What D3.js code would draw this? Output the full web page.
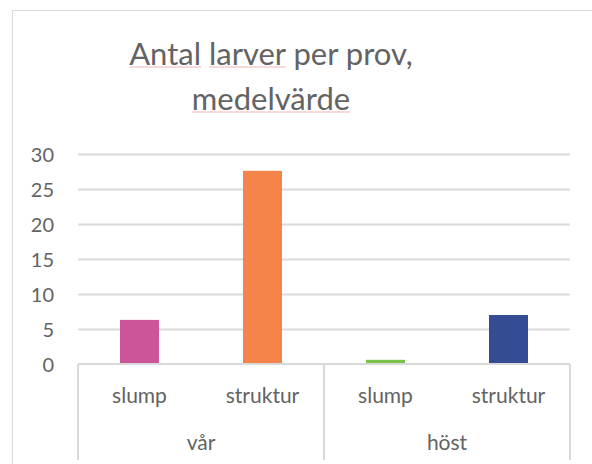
<!DOCTYPE html>
<html>
<head>
<meta charset="utf-8">
<script src="https://cdn.jsdelivr.net/npm/d3@7"></script>
<style>
  html, body { margin: 0; padding: 0; background: #fff; }
  svg { display: block; }
  text { font-family: Lato, "Open Sans", sans-serif; fill: #636363; }
</style>
</head>
<body>
<svg id="chart" width="592" height="464"></svg>
<script>
// ---- data ----
const titleLines = ["Antal larver per prov,", "medelvärde"];
const groups = ["vår", "vår", "höst", "höst"];
const categories = ["slump", "struktur", "slump", "struktur"];
const values = [6.3, 27.6, 0.6, 7.0];
const barColors = ["#CB5598", "#F4844A", "#7CC24A", "#344C94"];
const yTicks = [0, 5, 10, 15, 20, 25, 30];
const groupNames = ["vår", "höst"];

// ---- layout ----
const W = 592, H = 464;
const plot = { left: 78, right: 570, top: 154, bottom: 364 };
const svg = d3.select("#chart");

// chart frame (extends off right/bottom edge)
svg.append("rect")
  .attr("x", 12.5).attr("y", 10.5)
  .attr("width", W + 20).attr("height", H + 20)
  .attr("fill", "#fff").attr("stroke", "#d9d9d9").attr("stroke-width", 1);

const idx = d3.range(values.length);
const x = d3.scaleBand().domain(idx).range([plot.left, plot.right]).paddingInner(0).paddingOuter(0);
const y = d3.scaleLinear().domain([0, 30]).range([plot.bottom, plot.top]);

// gridlines + y labels
const yAxis = d3.axisLeft(y).tickValues(yTicks).tickSize(-(plot.right - plot.left)).tickPadding(24);
const gy = svg.append("g").attr("transform", `translate(${plot.left},0)`).call(yAxis);
gy.select(".domain").remove();
gy.selectAll(".tick line").attr("stroke", "#d9d9d9").attr("stroke-width", 2)
  .filter(d => d === 0).remove();
gy.selectAll(".tick text").attr("font-size", 20).attr("fill", "#636363")
  .style("font-family", "Lato, sans-serif").attr("dy", "0.36em");

// bars
const barW = 39;
svg.append("g").selectAll("rect").data(idx).join("rect")
  .attr("x", i => x(i) + x.bandwidth() / 2 - barW / 2)
  .attr("width", barW)
  .attr("y", i => y(values[i]))
  .attr("height", i => y(0) - y(values[i]))
  .attr("fill", i => barColors[i]);

// category axis baseline
const axisColor = "#d9d9d9";
svg.append("line")
  .attr("x1", plot.left).attr("x2", plot.right)
  .attr("y1", y(0)).attr("y2", y(0))
  .attr("stroke", axisColor).attr("stroke-width", 2);

// group separators
const groupBounds = [];
groupNames.forEach(g => {
  const members = idx.filter(i => groups[i] === g);
  const x0 = x(members[0]);
  const x1 = x(members[members.length - 1]) + x.bandwidth();
  groupBounds.push({ name: g, x0, x1 });
});
const sepX = Array.from(new Set(groupBounds.flatMap(b => [b.x0, b.x1])));
svg.append("g").selectAll("line").data(sepX).join("line")
  .attr("x1", d => d).attr("x2", d => d)
  .attr("y1", y(0)).attr("y2", 460)
  .attr("stroke", axisColor).attr("stroke-width", 2);

// category labels
svg.append("g").selectAll("text").data(idx).join("text")
  .attr("x", i => x(i) + x.bandwidth() / 2)
  .attr("y", 403)
  .attr("text-anchor", "middle")
  .attr("font-size", 21)
  .text(i => categories[i]);

// group labels
svg.append("g").selectAll("text").data(groupBounds).join("text")
  .attr("x", d => (d.x0 + d.x1) / 2)
  .attr("y", 450)
  .attr("text-anchor", "middle")
  .attr("font-size", 21)
  .text(d => d.name);

// title
const titleX = 271;
const titleY = [65, 110];
const underlineWords = [["Antal", "larver"], ["medelvärde"]];
titleLines.forEach((line, li) => {
  const t = svg.append("text")
    .attr("x", titleX).attr("y", titleY[li])
    .attr("text-anchor", "middle")
    .attr("font-size", 31)
    .style("fill", "#636363")
    .text(line);
  const node = t.node();
  const total = node.getComputedTextLength();
  const start = titleX - total / 2;
  underlineWords[li].forEach(w => {
    const k = line.indexOf(w);
    const off = k > 0 ? node.getSubStringLength(0, k) : 0;
    const len = node.getSubStringLength(k, w.length);
    svg.append("line")
      .attr("x1", start + off).attr("x2", start + off + len)
      .attr("y1", titleY[li] + 2).attr("y2", titleY[li] + 2)
      .attr("stroke", "#f3b3b3").attr("stroke-width", 1.2);
  });
});
</script>
</body>
</html>
